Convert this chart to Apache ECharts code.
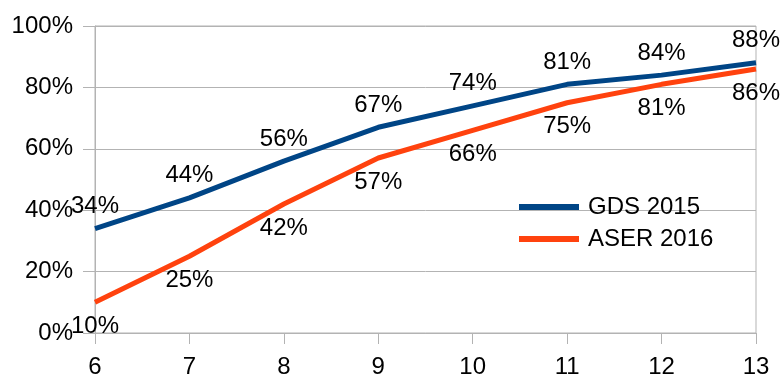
<!DOCTYPE html>
<html>
<head>
<meta charset="utf-8">
<script src="https://cdn.jsdelivr.net/npm/echarts@6/dist/echarts.min.js"></script>
<style>
  html, body { margin: 0; padding: 0; background: #fff; }
  #chart { width: 783px; height: 378px; }
</style>
</head>
<body>
<div id="chart"></div>
<script>
// Grade levels on the x axis
const grades = ['6', '7', '8', '9', '10', '11', '12', '13'];
// Share (%) per grade for each survey
const gds2015 = [34, 44, 56, 67, 74, 81, 84, 88];
const aser2016 = [10, 25, 42, 57, 66, 75, 81, 86];
// Y axis range and step (%)
const yMin = 0, yMax = 100, yStep = 20;

const FONT = '"Liberation Sans", Arial, sans-serif';
const GRID_COLOR = '#b3b3b3';

const chart = echarts.init(document.getElementById('chart'), null, { renderer: 'canvas' });

const labelBase = {
  show: true,
  formatter: '{c}%',
  fontFamily: FONT,
  fontSize: 24,
  color: '#000'
};

chart.setOption({
  animation: false,
  backgroundColor: '#fff',
  textStyle: { fontFamily: FONT },
  grid: {
    left: 95, right: 27, top: 26, bottom: 45,
    show: true, borderColor: GRID_COLOR, borderWidth: 1,
    containLabel: false,
    outerBoundsMode: 'none'
  },
  legend: {
    orient: 'vertical',
    left: 519, top: 195,
    padding: 0,
    icon: 'rect',
    itemWidth: 60, itemHeight: 6,
    itemGap: 8,
    textStyle: { fontFamily: FONT, fontSize: 24, color: '#000', padding: [0, 0, 0, 4] },
    data: ['GDS 2015', 'ASER 2016']
  },
  xAxis: {
    type: 'category',
    data: grades,
    boundaryGap: false,
    axisLine: { show: true, onZero: false, lineStyle: { color: GRID_COLOR, width: 1 } },
    axisTick: { show: true, inside: false, length: 11, lineStyle: { color: GRID_COLOR, width: 1 } },
    axisLabel: { fontFamily: FONT, fontSize: 24, color: '#000', margin: 22 },
    splitLine: { show: false }
  },
  yAxis: {
    type: 'value',
    min: yMin, max: yMax, interval: yStep,
    axisLine: { show: true, lineStyle: { color: GRID_COLOR, width: 1 } },
    axisTick: { show: true, inside: false, length: 12, lineStyle: { color: GRID_COLOR, width: 1 } },
    axisLabel: { fontFamily: FONT, fontSize: 24, color: '#000', margin: 22, formatter: '{value}%' },
    splitLine: { show: true, lineStyle: { color: GRID_COLOR, width: 1 } }
  },
  series: [
    {
      name: 'GDS 2015',
      type: 'line',
      data: gds2015,
      showSymbol: true,
      symbol: 'circle',
      symbolSize: 0.1,
      color: '#004586',
      itemStyle: { color: '#004586' },
      lineStyle: { color: '#004586', width: 5 },
      label: Object.assign({}, labelBase, { position: 'top', distance: 10 }),
      labelLayout: { hideOverlap: false },
      z: 3
    },
    {
      name: 'ASER 2016',
      type: 'line',
      data: aser2016,
      showSymbol: true,
      symbol: 'circle',
      symbolSize: 0.1,
      color: '#ff420e',
      itemStyle: { color: '#ff420e' },
      lineStyle: { color: '#ff420e', width: 5 },
      label: Object.assign({}, labelBase, { position: 'bottom', distance: 12 }),
      labelLayout: { hideOverlap: false },
      z: 2
    }
  ]
});
</script>
</body>
</html>
